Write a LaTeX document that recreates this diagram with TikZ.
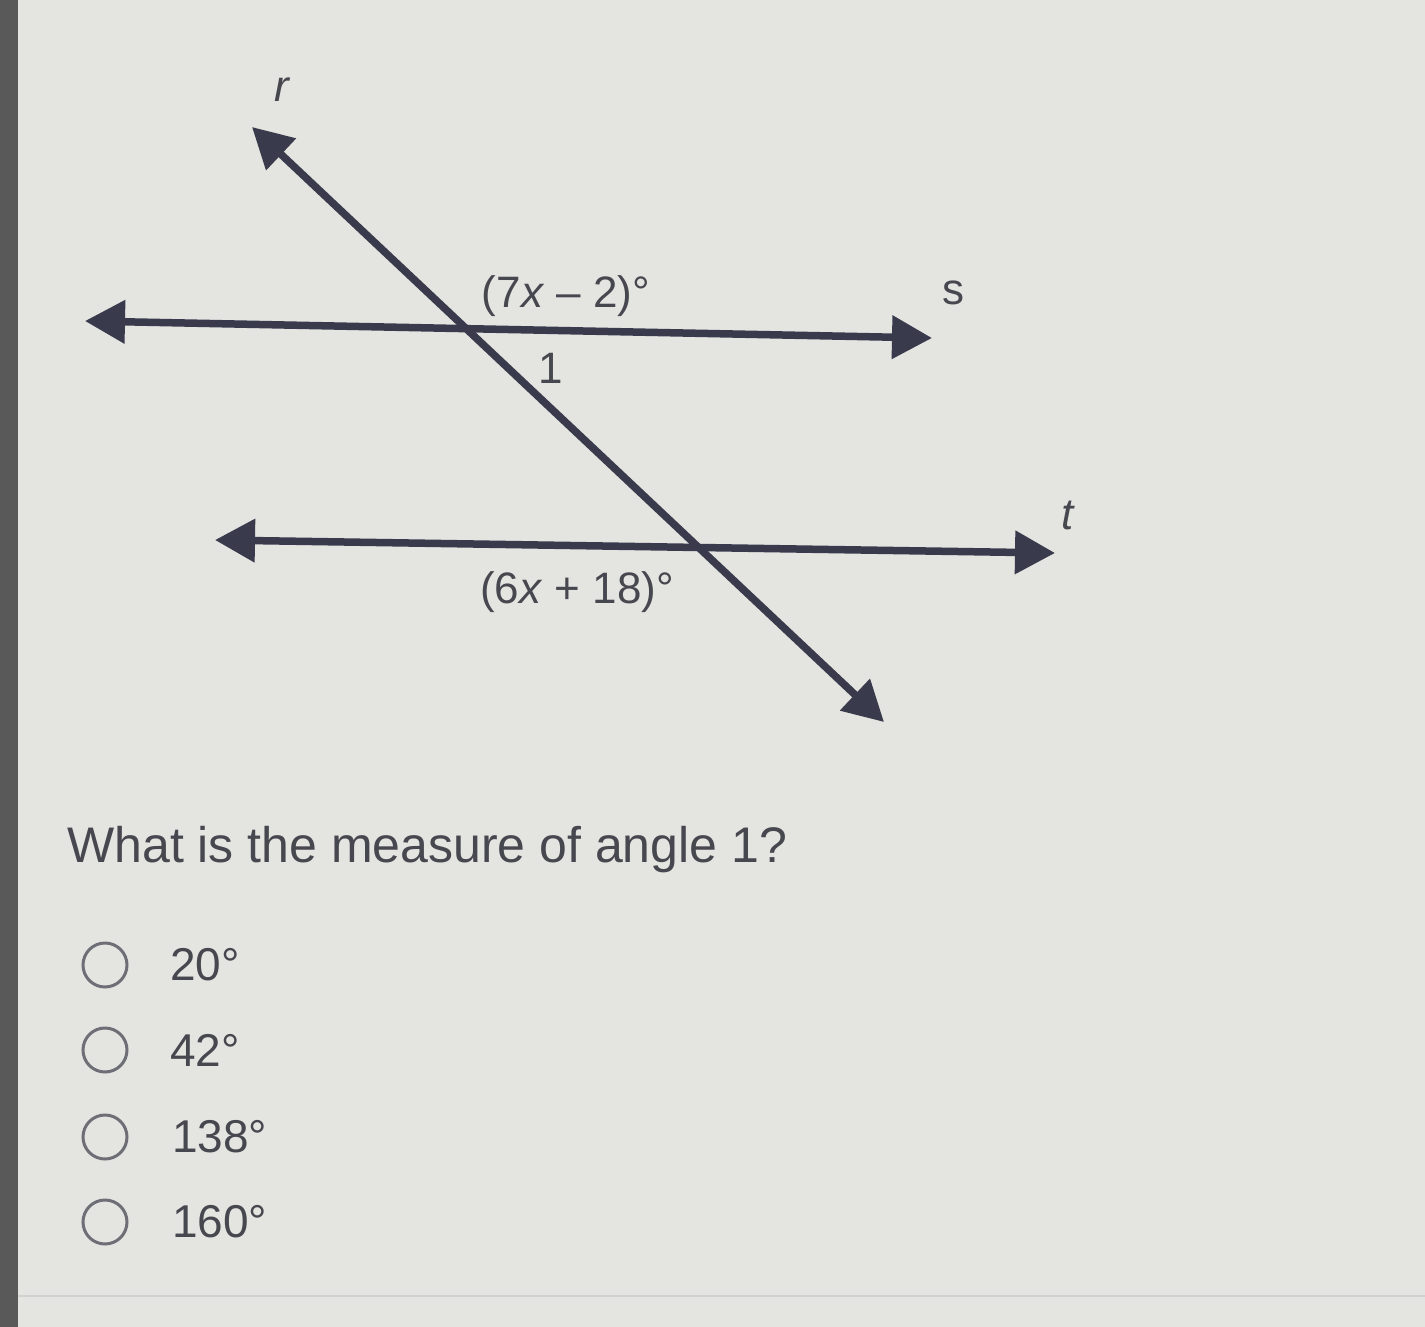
\documentclass[tikz,border=0pt]{standalone}
\usepackage{fontspec}
\setmainfont{Liberation Sans}
\usetikzlibrary{arrows.meta}
\definecolor{bgc}{HTML}{E4E4E1}
\definecolor{linec}{HTML}{393A4C}
\definecolor{txtc}{HTML}{47474F}
\definecolor{circc}{HTML}{6E6E76}
\begin{document}
\begin{tikzpicture}[x=1pt,y=-1pt,
  ln/.style={draw=linec,line width=7.5pt,{Triangle[length=40pt,width=42pt]}-{Triangle[length=40pt,width=42pt]}},
  lbl/.style={text=txtc,font=\fontsize{44}{50}\selectfont,inner sep=0pt},
  opt/.style={text=txtc,font=\fontsize{46}{52}\selectfont,inner sep=0pt,anchor=west},
  radio/.style={circle,draw=circc,line width=3pt,minimum size=44pt,inner sep=0pt}]
\fill[bgc] (0,0) rectangle (1425,1327);
\useasboundingbox (0,0) rectangle (1425,1327);
\fill[black!65] (0,0) rectangle (18,1327);
\draw[black!18,line width=2pt] (18,1296) -- (1425,1296);
% lines
\coordinate (sL) at (85,321);
\coordinate (sR) at (932,338);
\coordinate (tL) at (215,540);
\coordinate (tR) at (1055,553);
\coordinate (rA) at (252,127);
\coordinate (rB) at (884,722);
\draw[ln] (sL) -- (sR);
\draw[ln] (tL) -- (tR);
\draw[ln] (rA) -- (rB);
% labels
\node[lbl] (lr) at (283,90) {\textit{r}};
\node[lbl] (ls) at (953,293) {s};
\node[lbl] (lt) at (1068,515) {\textit{t}};
\node[lbl] (a1) at (566,296) {(7\textit{x} – 2)°};
\node[lbl] (n1) at (551,368) {1};
\node[lbl] (a2) at (577,592) {(6\textit{x} + 18)°};
% question
\node[text=txtc,font=\fontsize{50}{56}\selectfont,inner sep=0pt,anchor=west] (q) at (67,850) {What is the measure of angle 1?};
% options
\node[radio] (c1) at (105,965) {};
\node[radio] (c2) at (105,1050) {};
\node[radio] (c3) at (105,1137) {};
\node[radio] (c4) at (105,1222) {};
\node[opt] (o1) at (170,965) {20°};
\node[opt] (o2) at (170,1050) {42°};
\node[opt] (o3) at (172,1137) {138°};
\node[opt] (o4) at (172,1222) {160°};
\end{tikzpicture}
\end{document}
